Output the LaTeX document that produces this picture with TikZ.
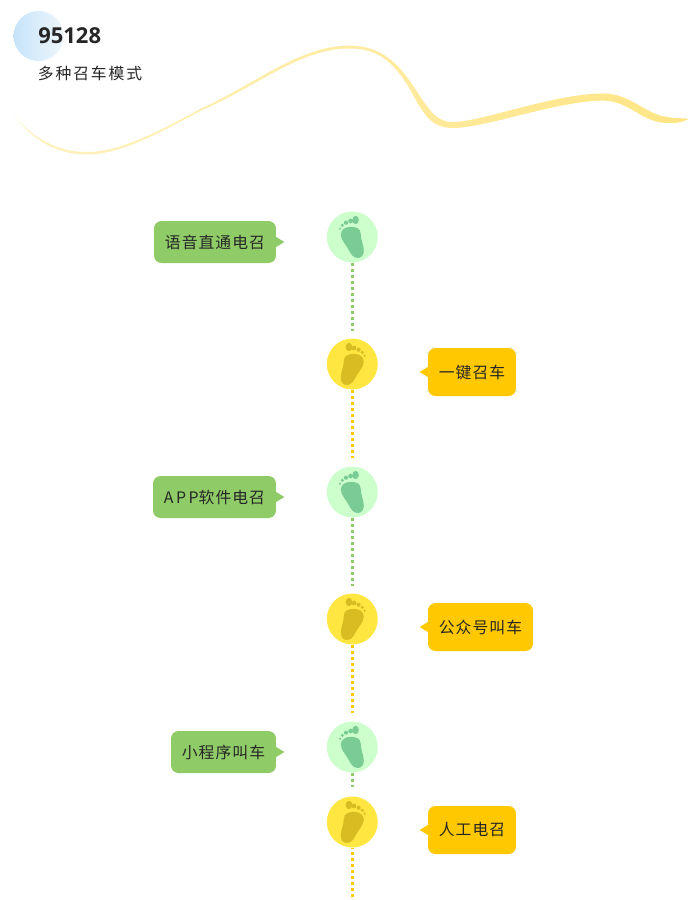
\documentclass[tikz,border=0pt]{standalone}
\usepackage{fontspec}
\usepackage{xcolor}
\usetikzlibrary{
    calc,
    positioning
}
\newfontfamily\cjk[LetterSpace=6.5]{Noto Sans CJK SC}
\newfontfamily\cjktitle{Open Sans}
\definecolor{leafgreen}{HTML}{8FCB67}
\definecolor{sungold}{HTML}{FFC800}
\definecolor{palegreen}{HTML}{CCFFCC}
\definecolor{palegold}{HTML}{FFE640}
\definecolor{footgreen}{HTML}{7ACC94}
\definecolor{footgold}{HTML}{D8BC22}
\definecolor{skyleft}{HTML}{C6E3F9}
\definecolor{skyright}{HTML}{EEF6FC}
\definecolor{wavepale}{HTML}{FFF2C0}
\definecolor{wavegold}{HTML}{FFE584}
\tikzset{
    x=0.02cm,
    y=-0.02cm,
    stopgreen/.style={circle, fill=palegreen, minimum size=1.02cm, inner sep=0pt},
    stopgold/.style={circle, fill=palegold, minimum size=1.02cm, inner sep=0pt},
    linkgreen/.style={draw=leafgreen, line width=0.06cm, dash pattern=on 0.06cm off 0.06cm, shorten >=0.14cm},
    linkgold/.style={draw=sungold, line width=0.06cm, dash pattern=on 0.06cm off 0.06cm, shorten >=0.16cm},
    boxgreen/.style={fill=leafgreen, rounded corners=0.15cm, minimum height=0.84cm, inner sep=0pt, font=\cjk\fontsize{9pt}{10pt}\selectfont, text=black!85},
    boxgold/.style={fill=sungold, rounded corners=0.15cm, minimum height=0.96cm, inner sep=0pt, font=\cjk\fontsize{9pt}{10pt}\selectfont, text=black!85},
    pics/footprint/.style={code={
        \fill[#1] (-11.5,-2.5) .. controls (-11.5,-7) and (-7,-10.2) .. (-2,-10.2)
            .. controls (3,-10.2) and (8.5,-9) .. (8.5,-3)
            .. controls (8.5,3) and (11.5,8) .. (11.5,14)
            .. controls (11.5,18.5) and (8.5,21) .. (5.5,21)
            .. controls (1,21) and (-1.5,17) .. (-3.5,13)
            .. controls (-6,8) and (-11.5,3) .. (-11.5,-2.5) -- cycle;
        \fill[#1] (3.3,-17) ellipse (3.3 and 4.2);
        \fill[#1] (-1.7,-16) circle (2.4);
        \fill[#1] (-6.3,-14.3) circle (2.1);
        \fill[#1] (-10,-11.7) circle (1.7);
        \fill[#1] (-12.3,-8.3) circle (1.2);
    }}
}
\begin{document}
\begin{tikzpicture}
    \useasboundingbox (0,0) rectangle (700,900);
    % header
    \shade[left color=skyleft, right color=skyright] (38.5,36) circle (25);
    \shade[left color=wavepale, right color=wavegold]
        (14,116) .. controls (35,140) and (60,152) .. (87,152)
        .. controls (120,152) and (160,131) .. (200,109)
        .. controls (255,84) and (300,45.5) .. (350,45.5)
        .. controls (380,46) and (397,62) .. (412,84)
        .. controls (428,108) and (435,122) .. (453,122)
        .. controls (480,122) and (550,95) .. (600,93.5)
        .. controls (630,92) and (645,115) .. (668,117)
        .. controls (675,119) and (683,117.5) .. (689,119)
        .. controls (683,122) and (675,124) .. (666,123)
        .. controls (640,122) and (630,100) .. (600,100.5)
        .. controls (550,103) and (485,128) .. (453,128)
        .. controls (428,128) and (422,110) .. (408,86)
        .. controls (393,62) and (378,48.5) .. (350,48.5)
        .. controls (300,48) and (257,87) .. (200,111)
        .. controls (160,133) and (120,154.5) .. (87,154.5)
        .. controls (58,154.5) and (35,142) .. (14,116) -- cycle;
    \node[anchor=west, inner sep=0pt, font=\cjktitle\bfseries\fontsize{12.5pt}{14pt}\selectfont, text=black!85] (title) at (38,35.5) {95128};
    \node[anchor=west, inner sep=0pt, font=\cjk\fontsize{9pt}{10pt}\selectfont\addfontfeatures{LetterSpace=12}, text=black!85] (subtitle) at (37.5,73) {多种召车模式};
    % stops
    \node[stopgreen] (s1) at (352.3,237) {};
    \node[stopgold] (s2) at (352.3,364) {};
    \node[stopgreen] (s3) at (352.3,492) {};
    \node[stopgold] (s4) at (352.3,619) {};
    \node[stopgreen] (s5) at (352.3,747) {};
    \node[stopgold] (s6) at (352.3,822) {};
    \coordinate (end) at (352.3,897);
    \pic at (s1) {footprint=footgreen};
    \pic[xscale=-1] at (s2) {footprint=footgold};
    \pic at (s3) {footprint=footgreen};
    \pic[xscale=-1] at (s4) {footprint=footgold};
    \pic at (s5) {footprint=footgreen};
    \pic[xscale=-1] at (s6) {footprint=footgold};
    \draw[linkgreen] (s1) -- (s2);
    \draw[linkgold] (s2) -- (s3);
    \draw[linkgreen] (s3) -- (s4);
    \draw[linkgold] (s4) -- (s5);
    \draw[linkgreen, shorten >=0.18cm] (s5) -- (s6);
    \draw[linkgold, shorten >=0pt, dash phase=0.03cm] (s6) -- (end);
    % callouts
    \node[boxgreen, minimum width=2.44cm] (c1) at (215,242) {语音直通电召};
    \node[boxgold, minimum width=1.76cm] (c2) at (472,372) {一键召车};
    \node[boxgreen, minimum width=2.46cm] (c3) at (214.5,497) {{\addfontfeatures{LetterSpace=16}APP}软件电召};
    \node[boxgold, minimum width=2.10cm] (c4) at (480.5,627) {公众号叫车};
    \node[boxgreen, minimum width=2.10cm] (c5) at (223.5,752) {小程序叫车};
    \node[boxgold, minimum width=1.76cm] (c6) at (472,830) {人工电召};
    \fill[leafgreen] ($(c1.east)+(-1,-5.5)$) -- ++(9,5.5) -- ++(-9,5.5) -- cycle;
    \fill[sungold] ($(c2.west)+(1,-5.5)$) -- ++(-9,5.5) -- ++(9,5.5) -- cycle;
    \fill[leafgreen] ($(c3.east)+(-1,-5.5)$) -- ++(9,5.5) -- ++(-9,5.5) -- cycle;
    \fill[sungold] ($(c4.west)+(1,-5.5)$) -- ++(-9,5.5) -- ++(9,5.5) -- cycle;
    \fill[leafgreen] ($(c5.east)+(-1,-5.5)$) -- ++(9,5.5) -- ++(-9,5.5) -- cycle;
    \fill[sungold] ($(c6.west)+(1,-5.5)$) -- ++(-9,5.5) -- ++(9,5.5) -- cycle;
\end{tikzpicture}
\end{document}
